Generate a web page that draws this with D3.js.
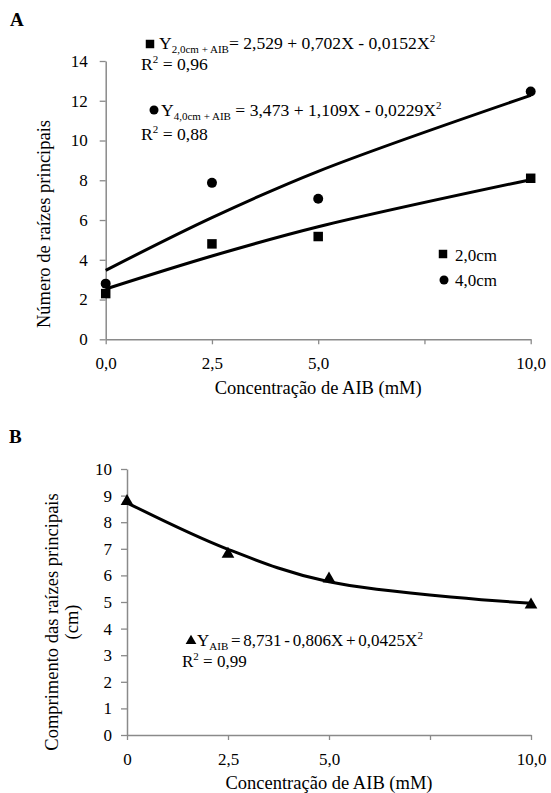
<!DOCTYPE html>
<html><head><meta charset="utf-8">
<script src="https://cdn.jsdelivr.net/npm/d3@7"></script>
<style>
body{margin:0;background:#fff;}
text{font-family:'Liberation Serif','Times New Roman',Times,'DejaVu Serif',serif !important;}
</style></head>
<body><svg id="c" width="551" height="793" font-family="'Liberation Serif','Times New Roman',Times,serif"></svg>
<script>
// ---- Panel A data ----
const concA = [0, 2.5, 5, 10];
const raiz2cm = [2.3, 4.8, 5.17, 8.1];
const raiz4cm = [2.8, 7.87, 7.07, 12.47];
const fit2cm = [2.53, 4.19, 5.66, 8.03];
const fit4cm = [3.47, 6.12, 8.45, 12.27];
const yTicksA = [0, 2, 4, 6, 8, 10, 12, 14];
const xTicks = [0, 2.5, 5, 7.5, 10];
const xTickLabelsA = ["0,0", "2,5", "5,0", "", "10,0"];
// ---- Panel B data ----
const concB = [0, 2.5, 5, 10];
const comprimento = [8.78, 6.8, 5.87, 4.89];
const fitB = [8.73, 6.98, 5.76, 4.95];
const yTicksB = [0,1,2,3,4,5,6,7,8,9,10];
const xTickLabelsB = ["0", "2,5", "5,0", "", "10,0"];

const FONT = "'Liberation Serif','Times New Roman',Times,serif";
const svg = d3.select("#c");
const axisColor = "#8a8a8a";
const tickFont = 17;

function styleAxis(g){
  g.attr("font-family", FONT);
  g.selectAll("path.domain").attr("stroke", axisColor).attr("stroke-width", 1.5);
  g.selectAll(".tick line").attr("stroke", axisColor).attr("stroke-width", 1.3);
  g.selectAll(".tick text").attr("fill", "#000").attr("font-size", tickFont).attr("font-family", FONT);
}
function txt(x, y, s, size){
  return svg.append("text").attr("x", x).attr("y", y).attr("font-size", size).attr("font-family", FONT).text(s);
}

// ================= Panel A =================
const xA = d3.scaleLinear().domain([0, 10]).range([105.7, 530.7]);
const yA = d3.scaleLinear().domain([0, 14]).range([339.3, 61]);

txt(10, 26, "A", 19).attr("font-weight", "bold");

const gxA = svg.append("g").attr("transform", `translate(0,${yA(0)})`)
  .call(d3.axisBottom(xA).tickValues(xTicks).tickSize(5).tickSizeOuter(0).tickPadding(13)
        .tickFormat((d,i)=>xTickLabelsA[i]));
styleAxis(gxA);
const gyA = svg.append("g").attr("transform", `translate(${xA(0)},0)`)
  .call(d3.axisLeft(yA).tickValues(yTicksA).tickSize(6).tickSizeOuter(0).tickPadding(12)
        .tickFormat(d3.format("d")));
styleAxis(gyA);

const lineA = d3.line().x(d=>xA(d[0])).y(d=>yA(d[1])).curve(d3.curveCatmullRom.alpha(0.5));
svg.append("path").datum(concA.map((c,i)=>[c, fit4cm[i]])).attr("d", lineA)
  .attr("fill","none").attr("stroke","#000").attr("stroke-width",3);
svg.append("path").datum(concA.map((c,i)=>[c, fit2cm[i]])).attr("d", lineA)
  .attr("fill","none").attr("stroke","#000").attr("stroke-width",3);

const sq = d3.symbol().type(d3.symbolSquare).size(90);
const ci = d3.symbol().type(d3.symbolCircle).size(78);
const tri = d3.symbol().type(d3.symbolTriangle).size(70);

svg.append("g").selectAll("path").data(concA.map((c,i)=>[c, raiz2cm[i]])).join("path")
  .attr("d", sq).attr("transform", d=>`translate(${xA(d[0])},${yA(d[1])})`).attr("fill","#000");
svg.append("g").selectAll("path").data(concA.map((c,i)=>[c, raiz4cm[i]])).join("path")
  .attr("d", ci).attr("transform", d=>`translate(${xA(d[0])},${yA(d[1])})`).attr("fill","#000");

// axis titles A
txt((xA(0)+xA(10))/2, 394, "Concentração de AIB (mM)", 18.5).attr("text-anchor","middle");
txt(0, 0, "Número de raízes principais", 18.5).attr("text-anchor","middle")
  .attr("transform", `translate(50,224) rotate(-90)`);

// legend A
svg.append("path").attr("d", d3.symbol().type(d3.symbolSquare).size(72)).attr("transform","translate(443,254)");
txt(455, 261, "2,0cm", 17);
svg.append("path").attr("d", d3.symbol().type(d3.symbolCircle).size(64)).attr("transform","translate(444,280)");
txt(455, 286, "4,0cm", 17);

// equations: each piece its own text, placed after measuring the previous one
function eq(x, y, parts, base, ws){
  let cx = x;
  parts.forEach(p=>{
    let yy = y, fs = base;
    if(p.sub){ yy = y + 4; fs = 11; }
    if(p.sup){ yy = y - 7; fs = 11; }
    const t = txt(cx, yy, p.t, fs).attr("xml:space","preserve").style("white-space","pre")
      .attr("word-spacing", ws || 0);
    cx += t.node().getComputedTextLength();
  });
}
svg.append("path").attr("d", d3.symbol().type(d3.symbolSquare).size(72)).attr("transform","translate(150,44)");
eq(159, 49, [{t:"Y"},{t:"2,0cm + AIB", sub:true},{t:"= 2,529 + 0,702X - 0,0152X"},{t:"2", sup:true}], 17.6);
eq(141, 70, [{t:"R"},{t:"2", sup:true},{t:" = 0,96"}], 17.6);
svg.append("path").attr("d", d3.symbol().type(d3.symbolCircle).size(64)).attr("transform","translate(154,110)");
eq(161, 116, [{t:"Y"},{t:"4,0cm + AIB", sub:true},{t:" = 3,473 + 1,109X - 0,0229X"},{t:"2", sup:true}], 17.6);
eq(141, 140, [{t:"R"},{t:"2", sup:true},{t:" = 0,88"}], 17.6);

// ================= Panel B =================
const xB = d3.scaleLinear().domain([0, 10]).range([127, 531]);
const yB = d3.scaleLinear().domain([0, 10]).range([735, 469]);

txt(9, 443, "B", 19).attr("font-weight", "bold");

const gxB = svg.append("g").attr("transform", `translate(0,${yB(0)})`)
  .call(d3.axisBottom(xB).tickValues(xTicks).tickSize(5).tickSizeOuter(0).tickPadding(13)
        .tickFormat((d,i)=>xTickLabelsB[i]));
styleAxis(gxB);
const gyB = svg.append("g").attr("transform", `translate(${xB(0)},0)`)
  .call(d3.axisLeft(yB).tickValues(yTicksB).tickSize(6).tickSizeOuter(0).tickPadding(9)
        .tickFormat(d3.format("d")));
styleAxis(gyB);

const lineB = d3.line().x(d=>xB(d[0])).y(d=>yB(d[1])).curve(d3.curveCatmullRom.alpha(0.5));
svg.append("path").datum(concB.map((c,i)=>[c, fitB[i]])).attr("d", lineB)
  .attr("fill","none").attr("stroke","#000").attr("stroke-width",3);
svg.append("g").selectAll("path").data(concB.map((c,i)=>[c, comprimento[i]])).join("path")
  .attr("d", tri).attr("transform", d=>`translate(${xB(d[0])},${yB(d[1])})`).attr("fill","#000");

txt((xB(0)+xB(10))/2, 789, "Concentração de AIB (mM)", 18.5).attr("text-anchor","middle");
txt(0, 0, "Comprimento das raízes principais", 18.5).attr("text-anchor","middle")
  .attr("transform", `translate(58,622) rotate(-90)`);
txt(0, 0, "(cm)", 18.5).attr("text-anchor","middle")
  .attr("transform", `translate(78,622) rotate(-90)`);

svg.append("path").attr("d", d3.symbol().type(d3.symbolTriangle).size(50)).attr("transform","translate(191,641)");
eq(197, 646, [{t:"Y"},{t:"AIB", sub:true},{t:" = 8,731 - 0,806X + 0,0425X"},{t:"2", sup:true}], 17, -1.5);
eq(182, 667, [{t:"R"},{t:"2", sup:true},{t:" = 0,99"}], 17);
</script></body></html>
